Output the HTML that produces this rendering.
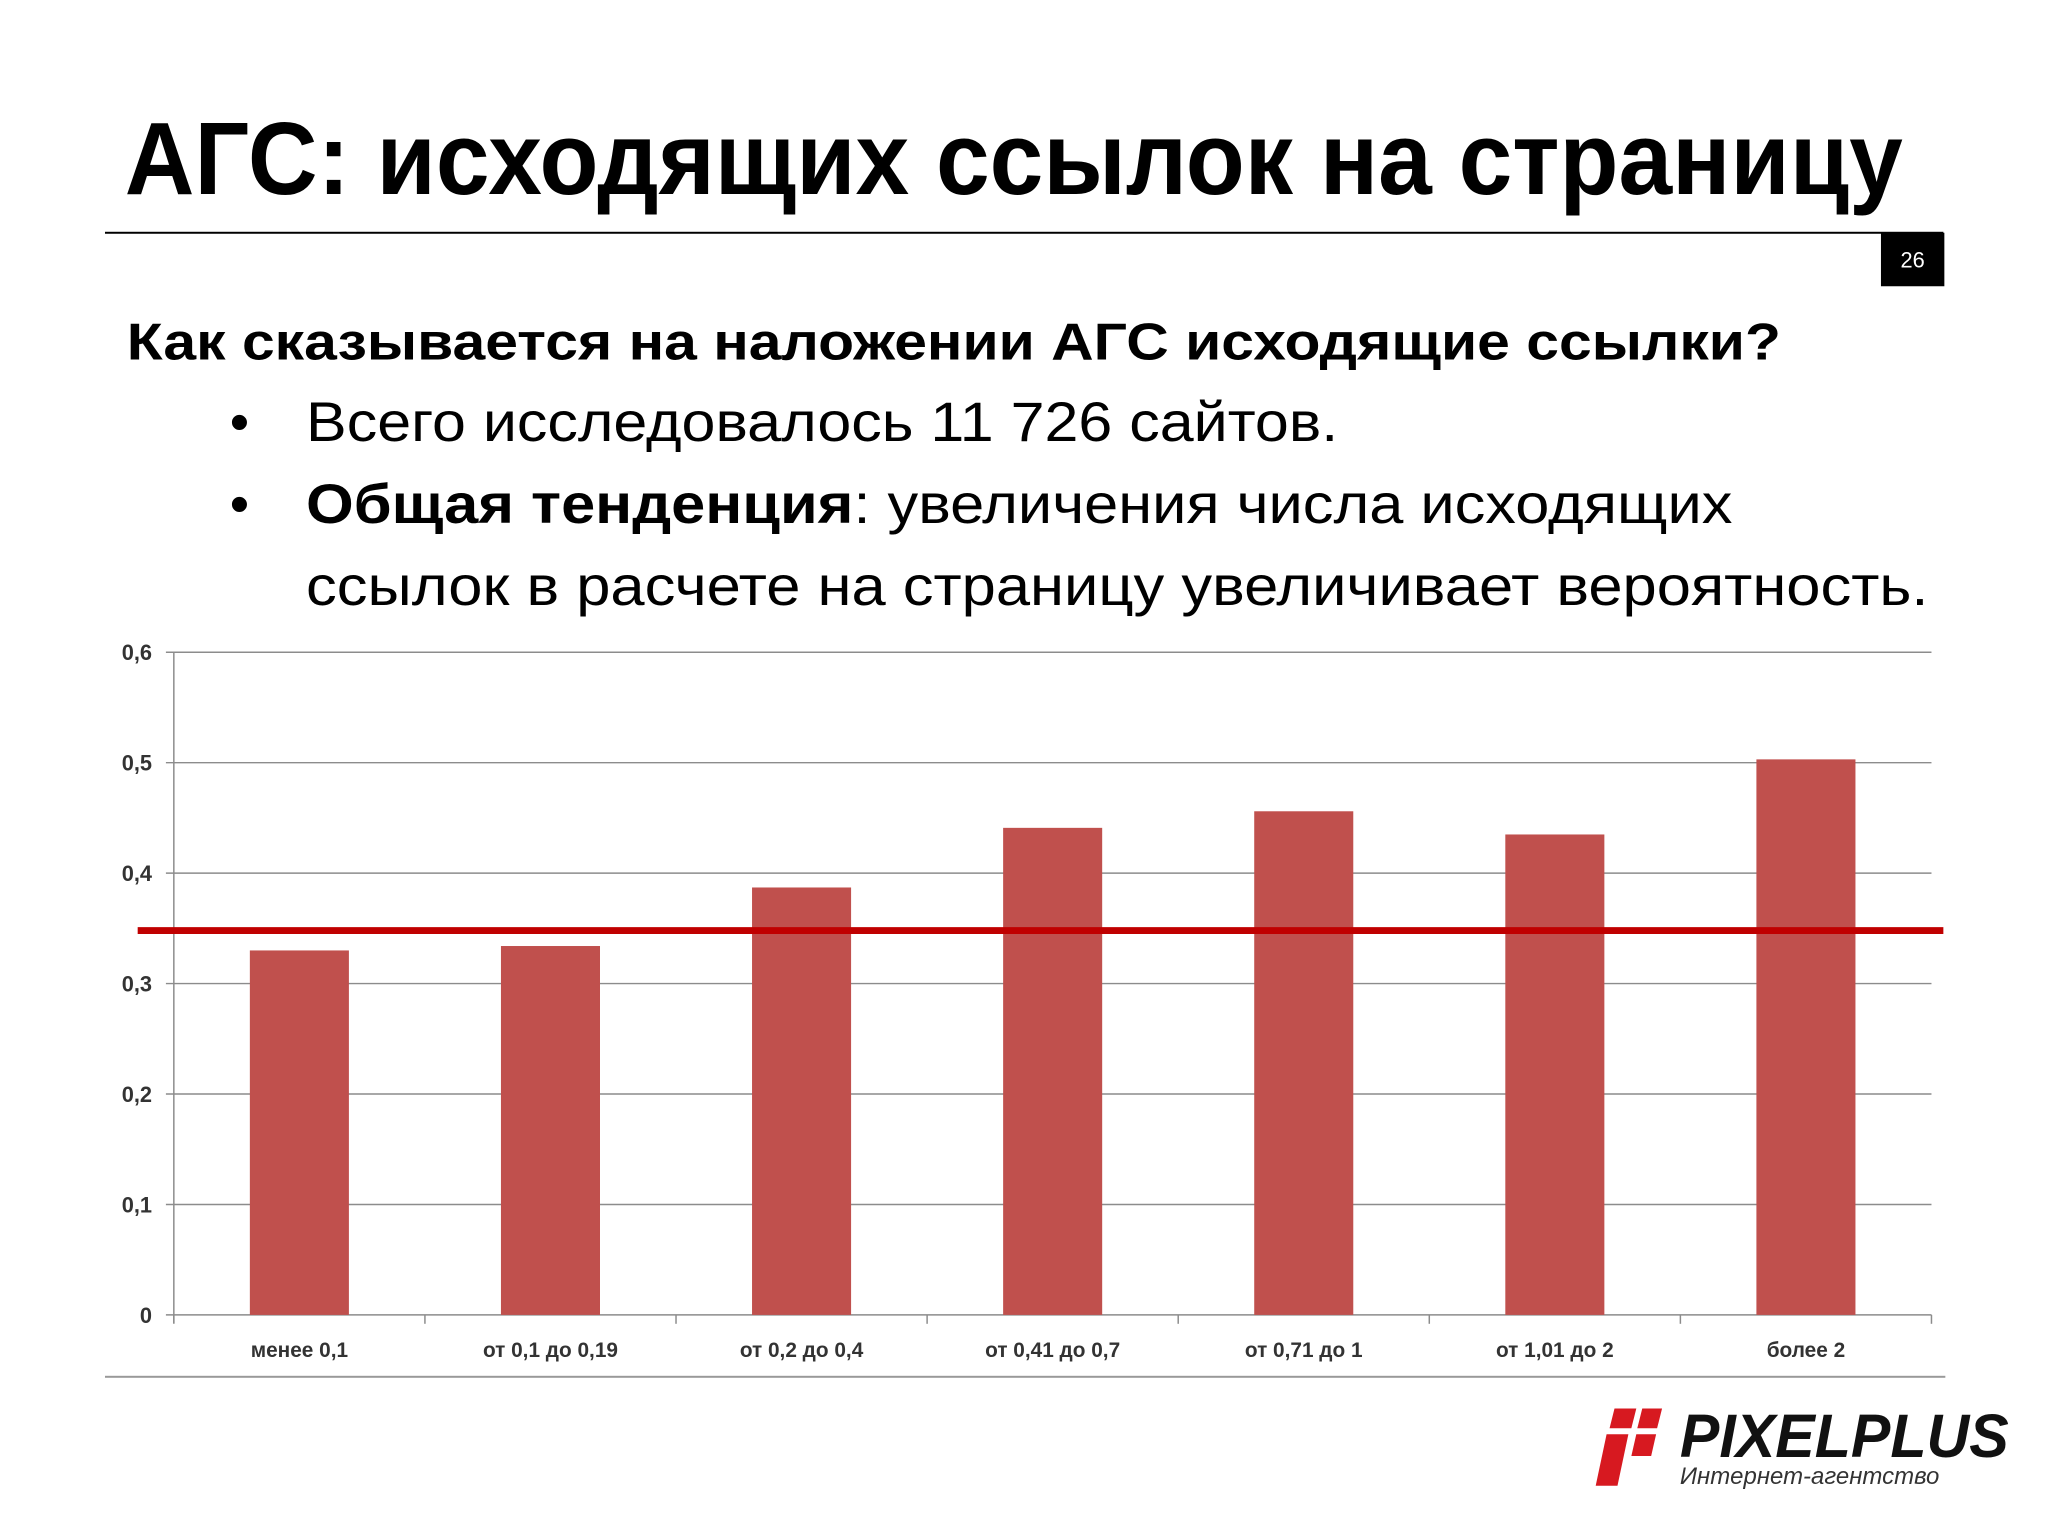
<!DOCTYPE html>
<html><head><meta charset="utf-8"><style>html,body{margin:0;padding:0;background:#fff}svg{display:block}</style></head>
<body>
<svg id="s" width="2048" height="1536" viewBox="0 0 2048 1536" xmlns="http://www.w3.org/2000/svg" font-family="'Liberation Sans', sans-serif">
<g transform="scale(0.9905)">
<text x="126" y="196" font-size="104" font-weight="bold" textLength="1795" lengthAdjust="spacingAndGlyphs" fill="#000">АГС: исходящих ссылок на страницу</text>
<rect x="106" y="234" width="1856" height="2" fill="#000"/>
<rect x="1899" y="235" width="64" height="54" fill="#000"/>
<text x="1931" y="270" font-size="22" fill="#fff" text-anchor="middle">26</text>
<text x="128" y="363" font-size="52" font-weight="bold" textLength="1670" lengthAdjust="spacingAndGlyphs" fill="#000">Как сказывается на наложении АГС исходящие ссылки?</text>
<text x="232" y="445" font-size="56" fill="#000">•</text>
<text x="309" y="445" font-size="56" textLength="1042" lengthAdjust="spacingAndGlyphs" fill="#000">Всего исследовалось 11 726 сайтов.</text>
<text x="232" y="528" font-size="56" fill="#000">•</text>
<text x="309" y="528" font-size="56" textLength="1440" lengthAdjust="spacingAndGlyphs" fill="#000"><tspan font-weight="bold">Общая тенденция</tspan>: увеличения числа исходящих</text>
<text x="309" y="611" font-size="56" textLength="1638" lengthAdjust="spacingAndGlyphs" fill="#000">ссылок в расчете на страницу увеличивает вероятность.</text>
<g id="chart"></g>
<rect x="106" y="1389" width="1858" height="2" fill="#999"/>
<g>
<polygon points="1630,1422 1652,1422 1647,1442 1625,1442" fill="#d71920"/>
<polygon points="1658,1422 1678,1422 1673,1442 1653,1442" fill="#d71920"/>
<polygon points="1622,1448 1644,1448 1633,1500 1611,1500" fill="#d71920"/>
<polygon points="1652,1448 1672,1448 1667,1470 1647,1470" fill="#d71920"/>
<text x="1696" y="1471" font-size="62" font-weight="bold" font-style="italic" textLength="332" lengthAdjust="spacingAndGlyphs" fill="#111">PIXELPLUS</text>
<text x="1696" y="1498" font-size="24" font-style="italic" textLength="262" lengthAdjust="spacingAndGlyphs" fill="#333">Интернет-агентство</text>
</g>
</g>
</svg>
<script>
const categories=["менее 0,1","от 0,1 до 0,19","от 0,2 до 0,4","от 0,41 до 0,7","от 0,71 до 1","от 1,01 до 2","более 2"];
const values=[0.330,0.334,0.387,0.441,0.456,0.435,0.503];
const yTicks=[0,0.1,0.2,0.3,0.4,0.5,0.6];
const yTickLabels=["0","0,1","0,2","0,3","0,4","0,5","0,6"];
const refValue=0.348;
const NS="http://www.w3.org/2000/svg";
const g=document.getElementById('chart');
const L=175.5,R=1950,T=658.5,B=1327.5,ymax=0.6;
const y=v=>B-(v/ymax)*(B-T);
const band=(R-L)/categories.length;
const x=i=>L+band*(i+0.5);
function mk(tag,attrs){const e=document.createElementNS(NS,tag);for(const k in attrs)e.setAttribute(k,attrs[k]);g.appendChild(e);return e;}
yTicks.forEach((t,i)=>{
 const ln=mk('line',{x1:L-8,x2:R,y1:y(t),y2:y(t),stroke:'#8c8c8c','stroke-width':1.5});
 
 
 const tx=mk('text',{x:L-22,y:y(t)+8,'font-size':22,'font-weight':'bold','text-anchor':'end',fill:'#333'});
 tx.textContent=yTickLabels[i];
 
 
});
const ax=mk('line',{x1:L,x2:L,y1:T,y2:B+8,stroke:'#8c8c8c','stroke-width':1.5});


for(let i=0;i<=categories.length;i++){
 const tk=mk('line',{x1:L+band*i,x2:L+band*i,y1:B,y2:B+9,stroke:'#8c8c8c','stroke-width':1.5});
 
 
}
const bw=100;
values.forEach((v,i)=>{
 const r=mk('rect',{x:x(i)-bw/2,y:y(v),width:bw,height:B-y(v),fill:'#c0504d'});
 
 
 const tx=mk('text',{x:x(i),y:1370,'font-size':21,'font-weight':'bold','text-anchor':'middle',fill:'#333'});
 tx.textContent=categories[i];
 
 
});
const rl=mk('line',{x1:139,x2:1962,y1:y(refValue),y2:y(refValue),stroke:'#c00000','stroke-width':7});


</script>
</body></html>
